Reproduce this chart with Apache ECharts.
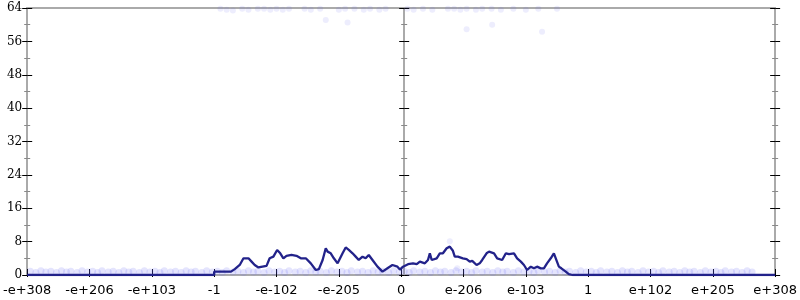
<!DOCTYPE html>
<html><head><meta charset="utf-8">
<script src="https://cdn.jsdelivr.net/npm/echarts@6/dist/echarts.min.js"></script>
<style>html,body{margin:0;padding:0;background:#fff}#c{width:800px;height:300px}</style>
</head><body><div id="c"></div>
<script>
// x axis: 13 evenly spaced tick slots, -6..6
const tickLabels = ['-e+308','-e+206','-e+103','-1','-e-102','-e-205','0','e-206','e-103','1','e+102','e+205','e+308'];
const yTicks = [0, 8, 16, 24, 32, 40, 48, 56, 64];

// main histogram line (x in tick-slot units, y in counts)
const lineX = [-6,-3.0,-3.0,-2.73,-2.67,-2.64,-2.59,-2.53,-2.45,-2.40,-2.35,-2.29,-2.26,-2.16,-2.11,-2.05,-1.99,-1.94,-1.89,-1.84,-1.81,-1.76,-1.68,-1.61,-1.53,-1.45,-1.37,-1.32,-1.26,-1.21,-1.18,-1.13,-1.08,-1.02,-0.94,-0.89,-0.84,-0.78,-0.73,-0.68,-0.62,-0.57,-0.52,-0.46,-0.38,-0.30,-0.22,-0.14,-0.06,-0.02,0.03,0.11,0.19,0.25,0.30,0.38,0.43,0.46,0.49,0.57,0.62,0.67,0.73,0.78,0.83,0.86,0.91,0.99,1.05,1.10,1.14,1.21,1.26,1.30,1.37,1.41,1.49,1.54,1.62,1.68,1.73,1.81,1.86,1.92,1.97,2.02,2.08,2.13,2.18,2.24,2.29,2.34,2.40,2.45,2.48,2.53,2.57,2.64,2.69,2.75,6];
const lineY = [0,0,0.8,0.8,1.4,1.0,2.4,4.0,4.0,3.2,2.4,1.8,2.2,2.2,4.0,4.4,6.0,5.2,4.0,4.6,4.2,4.8,4.6,4.0,4.0,2.8,1.2,1.4,3.6,6.4,5.6,5.2,4.0,2.8,5.2,6.6,6.0,5.2,4.4,3.6,4.4,4.0,4.8,3.6,2.0,0.8,1.6,2.4,2.0,1.3,2.0,2.6,2.8,2.6,3.2,2.8,3.6,5.2,3.6,4.0,5.2,5.2,6.4,6.8,5.8,4.4,4.4,4.0,3.8,3.2,3.4,2.4,2.8,3.6,5.2,5.6,5.2,4.0,3.6,5.2,5.0,5.2,4.0,3.2,2.4,1.2,2.0,1.6,2.0,1.6,1.6,2.8,4.0,5.2,5.2,2.0,1.6,0.8,0.2,0,0];

// faint scattered points
const bandX = [-5.95,-5.86,-5.78,-5.7,-5.62,-5.53,-5.45,-5.37,-5.3,-5.2,-5.12,-5.03,-4.95,-4.87,-4.8,-4.7,-4.62,-4.53,-4.45,-4.37,-4.3,-4.2,-4.12,-4.03,-3.95,-3.87,-3.8,-3.7,-3.62,-3.53,-3.45,-3.37,-3.3,-3.2,-3.12,-3.03,-2.95,-2.87,-2.8,-2.7,-2.62,-2.53,-2.45,-2.37,-2.3,-2.2,-2.12,-2.03,-1.95,-1.87,-1.8,-1.7,-1.62,-1.53,-1.45,-1.37,-1.3,-1.2,-1.12,-1.03,-0.95,-0.87,-0.8,-0.7,-0.62,-0.53,-0.45,-0.37,-0.3,-0.2,-0.12,-0.03,0.05,0.13,0.2,0.3,0.38,0.47,0.55,0.63,0.7,0.8,0.88,0.97,1.05,1.13,1.2,1.3,1.38,1.47,1.55,1.63,1.7,1.8,1.88,1.97,2.05,2.13,2.2,2.3,2.38,2.47,2.55,2.63,2.7,2.8,2.88,2.97,3.05,3.13,3.2,3.3,3.38,3.47,3.55,3.63,3.7,3.8,3.88,3.97,4.05,4.13,4.2,4.3,4.38,4.47,4.55,4.63,4.7,4.8,4.88,4.97,5.05,5.13,5.2,5.3,5.38,5.47,5.55,5.63,5.7,5.8,5.88,5.95];
const bandY = [0.9,0.6,1.0,0.7,0.9,0.6,1.0,0.7,0.9,0.6,1.0,0.7,0.9,0.6,1.0,0.7,0.9,0.6,1.0,0.7,0.9,0.6,1.0,0.7,0.9,0.6,1.0,0.7,0.9,0.6,1.0,0.7,0.9,0.6,1.0,0.7,0.9,0.6,1.0,0.7,0.9,0.6,1.0,0.7,0.9,0.6,1.0,0.7,0.9,0.6,1.0,0.7,0.9,0.6,1.0,0.7,0.9,0.6,1.0,0.7,0.9,0.6,1.0,0.7,0.9,0.6,1.0,0.7,0.9,0.6,1.0,0.7,0.9,0.6,1.0,0.7,0.9,0.6,1.0,0.7,0.9,0.6,1.0,0.7,0.9,0.6,1.0,0.7,0.9,0.6,1.0,0.7,0.9,0.6,1.0,0.7,0.9,0.6,1.0,0.7,0.9,0.6,1.0,0.7,0.9,0.6,1.0,0.7,0.9,0.6,1.0,0.7,0.9,0.6,1.0,0.7,0.9,0.6,1.0,0.7,0.9,0.6,1.0,0.7,0.9,0.6,1.0,0.7,0.9,0.6,1.0,0.7,0.9,0.6,1.0,0.7,0.9,0.6,1.0,0.7];
const topX = [-2.9,-2.8,-2.7,-2.55,-2.45,-2.3,-2.2,-2.1,-2.0,-1.9,-1.8,-1.55,-1.45,-1.3,-1.0,-0.9,-0.75,-0.6,-0.5,-0.35,-0.25,0.1,0.2,0.35,0.5,0.75,0.85,0.95,1.05,1.2,1.3,1.45,1.6,1.8,2.0,2.2,2.5,-1.21,-0.86,1.05,1.46,2.26,0.78,0.9];
const topY = [63.8,63.6,63.4,63.8,63.6,63.8,63.8,63.6,63.8,63.6,63.8,63.8,63.6,63.8,63.6,63.8,63.8,63.6,63.8,63.6,63.8,63.8,63.6,63.8,63.6,63.8,63.8,63.6,63.8,63.6,63.8,63.8,63.6,63.8,63.6,63.8,63.8,61.1,60.5,58.9,60.0,58.3,8.1,1.6];

const linePts = lineX.map((x, i) => [x, lineY[i]]);
const bandPts = bandX.map((x, i) => [x, bandY[i]]);
const topPts = topX.map((x, i) => [x, topY[i]]);

const gray = '#aaaaaa';
const yBase = {type:'value', min:yTicks[0], max:yTicks[yTicks.length-1], interval:8,
  splitLine:{show:false}, minorSplitLine:{show:false}};
const yAx = (pos, offset, inside, labels, line) => Object.assign({}, yBase, {
  position: pos, offset: offset,
  axisLine:{show:line, onZero:false, lineStyle:{color:gray, width:2}},
  axisTick:{show:true, inside:inside, length:5, lineStyle:{color:'#000', width:1}},
  minorTick:{show:true, splitNumber:2, length:3, lineStyle:{color:'#888', width:1}},
  axisLabel:{show:labels, fontFamily:'DejaVu Serif', fontSize:12, color:'#000', margin:5}
});

const chart = echarts.init(document.getElementById('c'), null, {renderer:'canvas'});
chart.setOption({
  animation:false,
  grid:{left:24, right:21, top:8, bottom:25},
  xAxis:[
    {type:'value', min:-6, max:6, interval:1, position:'bottom',
     axisLine:{show:true, onZero:false, lineStyle:{color:gray, width:2}},
     axisTick:{show:true, inside:true, length:6, lineStyle:{color:'#000'}},
     axisLabel:{formatter:v => tickLabels[Math.round(v)+6], fontFamily:'DejaVu Sans', fontSize:13, color:'#000', margin:9, showMinLabel:true, showMaxLabel:true},
     splitLine:{show:false}},
    {type:'value', min:-6, max:6, interval:1, position:'bottom',
     axisLine:{show:false, onZero:false},
     axisTick:{show:true, inside:false, length:2, lineStyle:{color:'#000'}},
     axisLabel:{show:false}, splitLine:{show:false}},
    {type:'value', min:-6, max:6, interval:1, position:'top',
     axisLine:{show:true, onZero:false, lineStyle:{color:gray, width:2}},
     axisTick:{show:false}, axisLabel:{show:false}, splitLine:{show:false}}
  ],
  yAxis:[
    yAx('left', 0, false, true, true),
    yAx('left', 0, true, false, false),
    yAx('right', 0, false, false, true),
    yAx('right', 0, true, false, false),
    yAx('left', -377, false, false, true),
    yAx('left', -377, true, false, false)
  ],
  series:[
    {type:'scatter', data:bandPts, symbolSize:7, itemStyle:{color:'rgba(100,100,245,0.22)'}, z:1},
    {type:'scatter', data:topPts, symbolSize:6, itemStyle:{color:'rgba(100,100,235,0.14)'}, z:1},
    {type:'line', data:linePts, showSymbol:false, symbol:'none', lineStyle:{color:'#22228a', width:2.3}, z:3}
  ]
});
</script></body></html>
